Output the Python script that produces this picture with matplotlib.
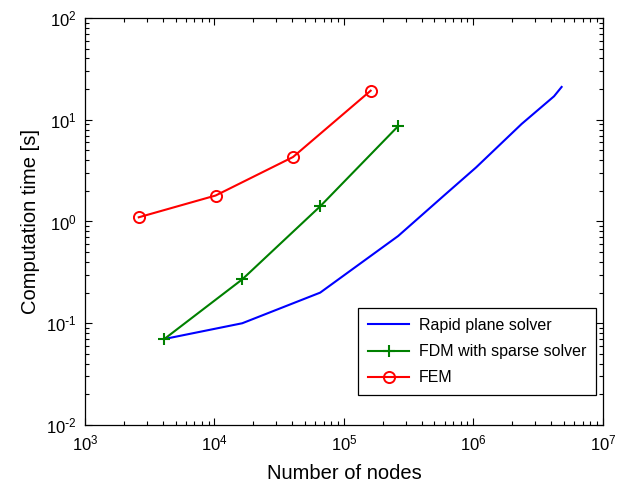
import matplotlib
matplotlib.use("Agg")
import matplotlib.pyplot as plt
import numpy as np
from matplotlib.ticker import LogLocator, NullFormatter, FuncFormatter

plt.rcParams["font.family"] = ["Liberation Sans", "DejaVu Sans"]
plt.rcParams["axes.unicode_minus"] = False

# solver timings: number of nodes vs computation time [s]
rapid_nodes = [4096, 16384, 65536, 262144, 589824, 1048576, 2359296, 4194304, 4800000]
rapid_time = [0.07, 0.10, 0.20, 0.72, 1.79, 3.4, 9.1, 17.0, 21.0]

fdm_nodes = [4096, 16384, 65536, 262144]
fdm_time = [0.07, 0.27, 1.41, 8.65]

fem_nodes = [2601, 10201, 40401, 160801]
fem_time = [1.1, 1.8, 4.3, 19.3]


def pow10_label(v, pos):
    # plain hyphen in the exponent instead of a typeset minus
    e = int(round(np.log10(v)))
    exp = ("\\text{-}%d" % -e) if e < 0 else "%d" % e
    return "$\\mathdefault{10^{%s}}$" % exp


fig = plt.figure(figsize=(6.28, 4.86), dpi=100)
ax = fig.add_axes([0.1354, 0.1255, 0.8246, 0.8375])

ax.loglog(rapid_nodes, rapid_time, color="#0000ff", lw=1.5, label="Rapid plane solver")
ax.loglog(fdm_nodes, fdm_time, color="#008000", lw=1.5, marker="+", ms=8, mew=1.5,
          label="FDM with sparse solver")
ax.loglog(fem_nodes, fem_time, color="#ff0000", lw=1.5, marker="o", ms=8, mew=1.4,
          mfc="none", label="FEM")

ax.set_xlim(1e3, 1e7)
ax.set_ylim(1e-2, 1e2)
ax.xaxis.set_major_locator(LogLocator(base=10, numticks=10))
ax.yaxis.set_major_locator(LogLocator(base=10, numticks=10))
ax.xaxis.set_minor_locator(LogLocator(base=10, subs=range(2, 10), numticks=20))
ax.yaxis.set_minor_locator(LogLocator(base=10, subs=range(2, 10), numticks=20))
ax.xaxis.set_major_formatter(FuncFormatter(pow10_label))
ax.yaxis.set_major_formatter(FuncFormatter(pow10_label))
ax.xaxis.set_minor_formatter(NullFormatter())
ax.yaxis.set_minor_formatter(NullFormatter())

ax.tick_params(which="both", direction="in", top=True, right=True, width=0.8)
ax.tick_params(which="major", length=5, labelsize=12, pad=6)
ax.tick_params(which="minor", length=3)
for s in ax.spines.values():
    s.set_linewidth(0.9)

ax.set_xlabel("Number of nodes", fontsize=14.5, labelpad=8)
ax.set_ylabel("Computation time [s]", fontsize=14.5, labelpad=4)

leg = ax.legend(loc="lower right", bbox_to_anchor=(0.9865, 0.074), borderaxespad=0,
                fontsize=11.5, fancybox=False, framealpha=1, edgecolor="black",
                handlelength=2.6, handletextpad=0.6, borderpad=0.6,
                labelspacing=0.7)
leg.get_frame().set_linewidth(0.9)

fig.savefig("out.png", dpi=100)
